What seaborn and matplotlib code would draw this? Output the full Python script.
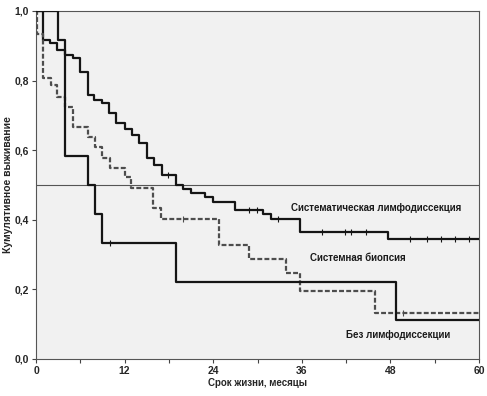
from matplotlib import pyplot as plt
from matplotlib.ticker import MultipleLocator, FuncFormatter
import numpy as np
import pandas as pd
import seaborn as sns

# --------------------------------------------------------
# Kaplan-Meier steps
# --------------------------------------------------------
sys_time = [0, 1, 1.9, 2.8, 3.9, 5, 6, 7, 7.9, 8.9, 9.9, 10.9, 12, 13, 14,
            15, 16, 17, 18.9, 19.9, 21, 22.9, 24, 26.9, 30.8, 31.8, 35.8,
            47.7, 60]
sys_surv = [1.0, 0.917, 0.909, 0.888, 0.874, 0.864, 0.826, 0.759, 0.744,
            0.737, 0.706, 0.679, 0.660, 0.644, 0.620, 0.577, 0.557, 0.529,
            0.500, 0.488, 0.476, 0.465, 0.452, 0.429, 0.416, 0.403, 0.364,
            0.345, 0.345]
sys_censor = [17.9, 28.9, 29.9, 32.8, 38.8, 41.8, 42.7, 44.7, 50.7, 52.9,
              54.8, 56.7, 58.7]

bio_time = [0, 0.1, 1, 2, 2.9, 3.9, 5, 7, 8, 9, 10, 12, 12.9, 15.9, 16.9,
            24.8, 28.8, 33.8, 35.8, 45.9, 60]
bio_surv = [1.0, 0.935, 0.808, 0.786, 0.752, 0.725, 0.668, 0.638, 0.608,
            0.578, 0.550, 0.522, 0.490, 0.433, 0.401, 0.328, 0.287, 0.246,
            0.196, 0.131, 0.131]
bio_censor = [19.9, 49.7]

no_time = [0, 3, 3.9, 7.1, 8, 9, 18.9, 48.8, 60]
no_surv = [1.0, 0.917, 0.583, 0.500, 0.417, 0.333, 0.222, 0.111, 0.111]
no_censor = [10.0]

labels = ["Систематическая лимфодиссекция",
          "Системная биопсия",
          "Без лимфодиссекции"]
label_pos = [(46.0, 0.434), (43.6, 0.29), (49.0, 0.069)]

x_ticks = [0, 12, 24, 36, 48, 60]
y_ticks = [0.0, 0.2, 0.4, 0.6, 0.8, 1.0]


def surv_at(times, surv, t):
    # value of the step function just at time t
    idx = np.searchsorted(times, t, side="right") - 1
    return surv[idx]


sns.set_style("ticks")
plt.rcParams['font.family'] = ['Liberation Sans', 'DejaVu Sans']

fig = plt.figure(figsize=(4.87, 3.96), dpi=100)
ax = fig.add_axes([36 / 487, 37 / 396, 443 / 487, 348 / 396])
ax.set_facecolor('#f1f1f1')

curves = [
    (sys_time, sys_surv, sys_censor, '#151515', '-'),
    (bio_time, bio_surv, bio_censor, '#4d4d4d', (0, (2.2, 1.0))),
    (no_time, no_surv, no_censor, '#151515', '-'),
]

ax.axhline(0.5, color='#555555', lw=0.8, zorder=1)

for times, surv, cens, color, ls in curves:
    df = pd.DataFrame({'t': times, 's': surv})
    sns.lineplot(data=df, x='t', y='s', drawstyle='steps-post',
                 color=color, linewidth=1.6, linestyle=ls, ax=ax,
                 zorder=3)
    cdf = pd.DataFrame({'t': cens,
                        's': [surv_at(times, surv, c) for c in cens]})
    sns.scatterplot(data=cdf, x='t', y='s', marker='|', s=22,
                    color=color, linewidth=0.8, ax=ax, zorder=4)

for text, (tx, ty) in zip(labels, label_pos):
    ax.text(tx, ty, text, ha='center', va='center', fontsize=7,
            fontweight='bold', color='#1a1a1a')

ax.set_xlim(0, 60)
ax.set_ylim(0, 1.0)
ax.set_xticks(x_ticks)
ax.xaxis.set_minor_locator(MultipleLocator(6))
ax.set_yticks(y_ticks)
ax.yaxis.set_major_formatter(
    FuncFormatter(lambda v, p: f"{v:.1f}".replace('.', ',')))

ax.tick_params(axis='both', which='both', direction='out', length=3,
               width=0.8, color='#444444', labelsize=7.5, pad=2)
for lab in ax.get_xticklabels() + ax.get_yticklabels():
    lab.set_fontweight('bold')

for side in ['top', 'right', 'bottom', 'left']:
    ax.spines[side].set_visible(True)
    ax.spines[side].set_color('#555555')
    ax.spines[side].set_linewidth(0.8)

ax.set_xlabel("Срок жизни, месяцы", fontsize=7, fontweight='bold')
ax.set_ylabel("Кумулятивное выживание", fontsize=7.5, fontweight='bold')
ax.xaxis.set_label_coords(0.5, -0.069)
ax.yaxis.set_label_coords(-0.063, 0.5)
ax.xaxis.label.set_va('center')
ax.yaxis.label.set_va('center')

fig.savefig("out.png", dpi=100)
